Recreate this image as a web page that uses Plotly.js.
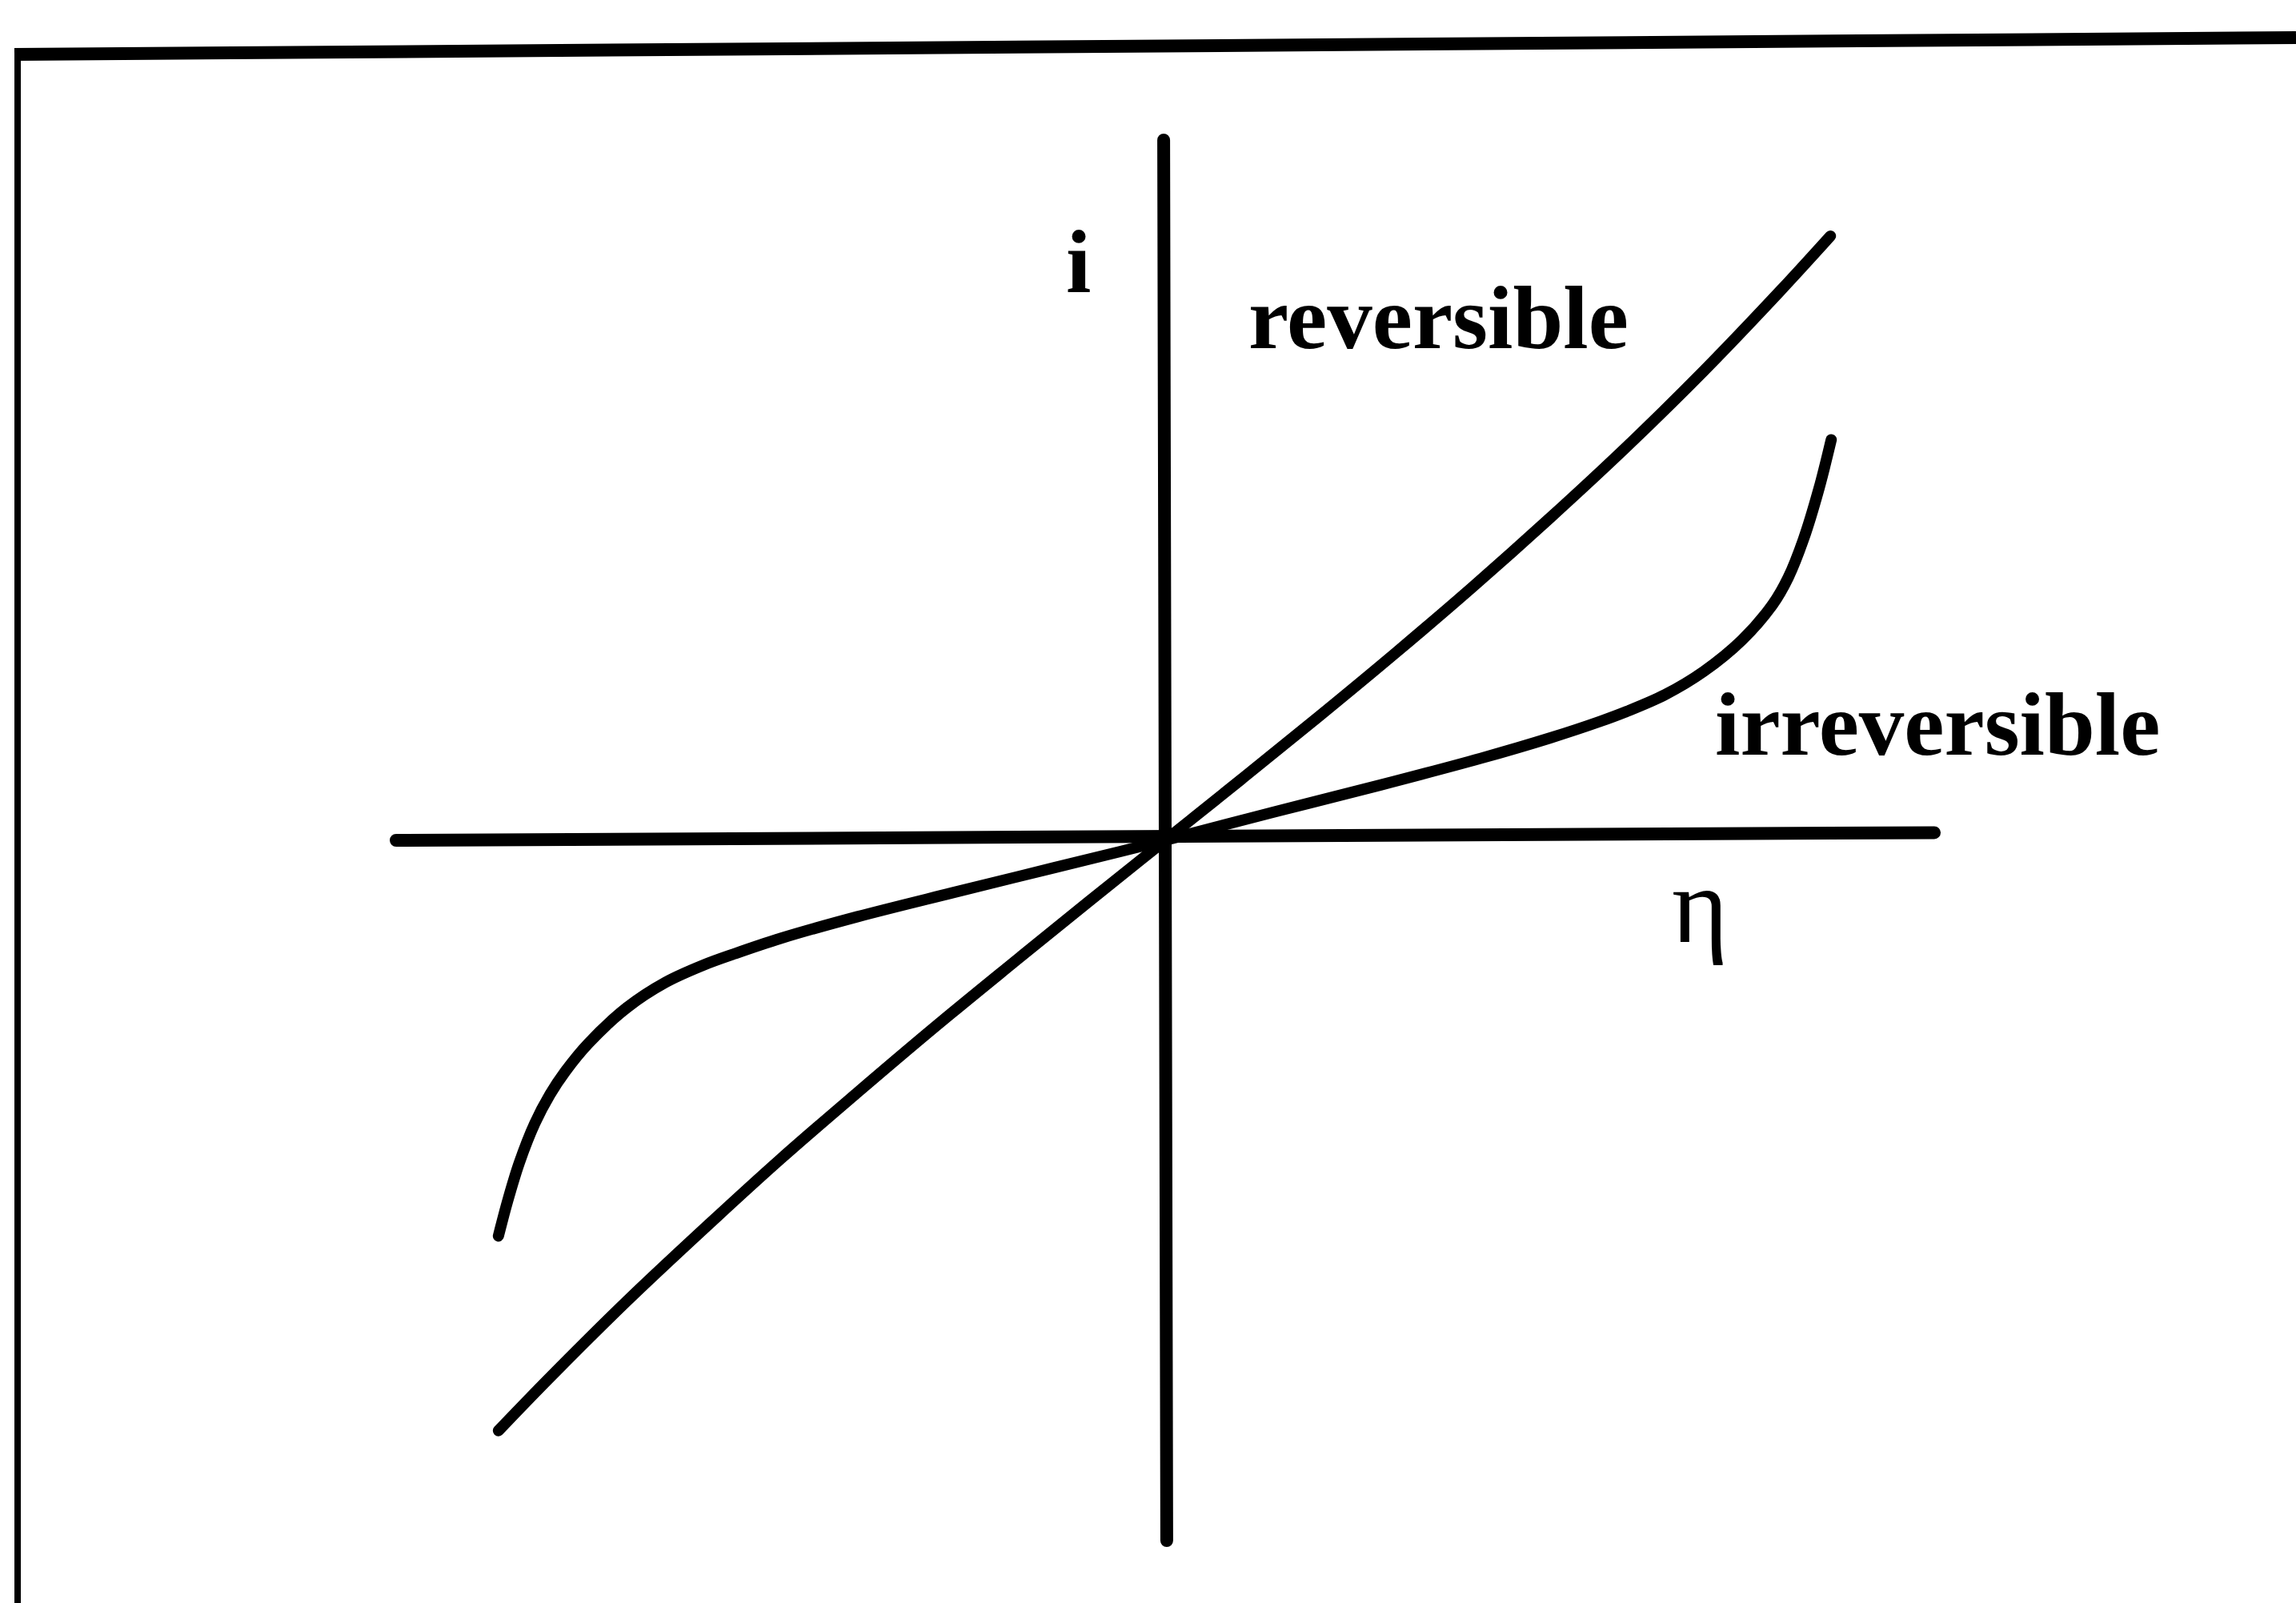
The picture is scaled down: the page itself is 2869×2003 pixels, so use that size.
<!DOCTYPE html>
<html>
<head>
<meta charset="utf-8">
<script src="https://cdn.plot.ly/plotly-3.0.1.min.js"></script>
<style>
  html, body { margin: 0; padding: 0; background: #ffffff; }
  #chart { width: 2869px; height: 2003px; }
  #chart .scatterlayer path.js-line { stroke-linecap: round; stroke-linejoin: round; }
</style>
</head>
<body>
<div id="chart"></div>
<script>
// ---- data (η and i in arbitrary units, axes span -1..1) ----
const etaRev = [-0.867, -0.80, -0.70, -0.60, -0.50, -0.40, -0.30, -0.20, -0.10, 0,
                0.10, 0.20, 0.30, 0.40, 0.50, 0.60, 0.70, 0.80, 0.865];
const iRev   = [-0.843, -0.767, -0.658, -0.555, -0.455, -0.360, -0.267, -0.177, -0.088, 0,
                0.088, 0.177, 0.268, 0.362, 0.460, 0.562, 0.670, 0.785, 0.863];

const etaIrr = [-0.867, -0.855, -0.84, -0.82, -0.80, -0.78, -0.75, -0.70, -0.65, -0.60, -0.56, -0.50, -0.40, -0.277, -0.144, 0,
                0.14, 0.28, 0.41, 0.50, 0.566, 0.60, 0.65, 0.70, 0.75, 0.79, 0.81, 0.83, 0.85, 0.866];
const iIrr   = [-0.565, -0.515, -0.461, -0.405, -0.363, -0.330, -0.290, -0.239, -0.203, -0.178, -0.162, -0.140, -0.109, -0.075, -0.039, 0,
                0.040, 0.079, 0.117, 0.146, 0.170, 0.184, 0.208, 0.241, 0.286, 0.337, 0.375, 0.430, 0.502, 0.572];

// axis lines (η axis and i axis)
const etaAxisX = [-1, 1];
const etaAxisY = [0, 0.011];
const iAxisX = [-0.002, 0.002];
const iAxisY = [1, -1];

// labels
const labelTexts = ["i", "reversible", "irreversible", "\u03b7"];
const labelEta   = [-0.113, 0.355, 1.004, 0.696];
const labelI     = [0.827, 0.747, 0.166, -0.093];

// ---- figure ----
const ink = '#000000';
const serif = 'Liberation Serif, Times New Roman, serif';
const traces = [
  { x: etaAxisX, y: etaAxisY, mode: 'lines', line: { color: ink, width: 16 }, hoverinfo: 'skip', showlegend: false },
  { x: iAxisX, y: iAxisY, mode: 'lines', line: { color: ink, width: 16 }, hoverinfo: 'skip', showlegend: false },
  { x: etaRev, y: iRev, mode: 'lines', line: { color: ink, width: 14, shape: 'spline', smoothing: 1 }, name: 'reversible', showlegend: false },
  { x: etaIrr, y: iIrr, mode: 'lines', line: { color: ink, width: 14, shape: 'spline', smoothing: 1 }, name: 'irreversible', showlegend: false }
];

const labelFonts = [
  { family: serif, size: 113, color: ink, weight: 'bold' },
  { family: serif, size: 113, color: ink, weight: 'bold' },
  { family: serif, size: 113, color: ink, weight: 'bold' },
  { family: serif, size: 135, color: ink }
];

const annotations = labelTexts.map((t, k) => ({
  x: labelEta[k], y: labelI[k], xref: 'x', yref: 'y',
  text: t, showarrow: false, xanchor: 'center', yanchor: 'middle',
  font: labelFonts[k]
}));

const layout = {
  width: 2869, height: 2003,
  margin: { l: 0, r: 0, t: 0, b: 0, pad: 0 },
  paper_bgcolor: '#ffffff', plot_bgcolor: '#ffffff',
  showlegend: false,
  xaxis: { range: [-1.51509, 1.47034], visible: false, showgrid: false, zeroline: false, fixedrange: true },
  yaxis: { range: [-1.08914, 1.2], visible: false, showgrid: false, zeroline: false, fixedrange: true },
  annotations: annotations,
  shapes: [
    { type: 'line', xref: 'paper', yref: 'paper', x0: 0.00767, x1: 0.00767, y0: 0.97004, y1: -0.01, line: { color: ink, width: 8 } },
    { type: 'line', xref: 'paper', yref: 'paper', x0: 0.00627, x1: 1.0, y0: 0.96605, y1: 0.97653, line: { color: ink, width: 16 } }
  ]
};

Plotly.newPlot('chart', traces, layout, { displayModeBar: false, staticPlot: true });
</script>
</body>
</html>
